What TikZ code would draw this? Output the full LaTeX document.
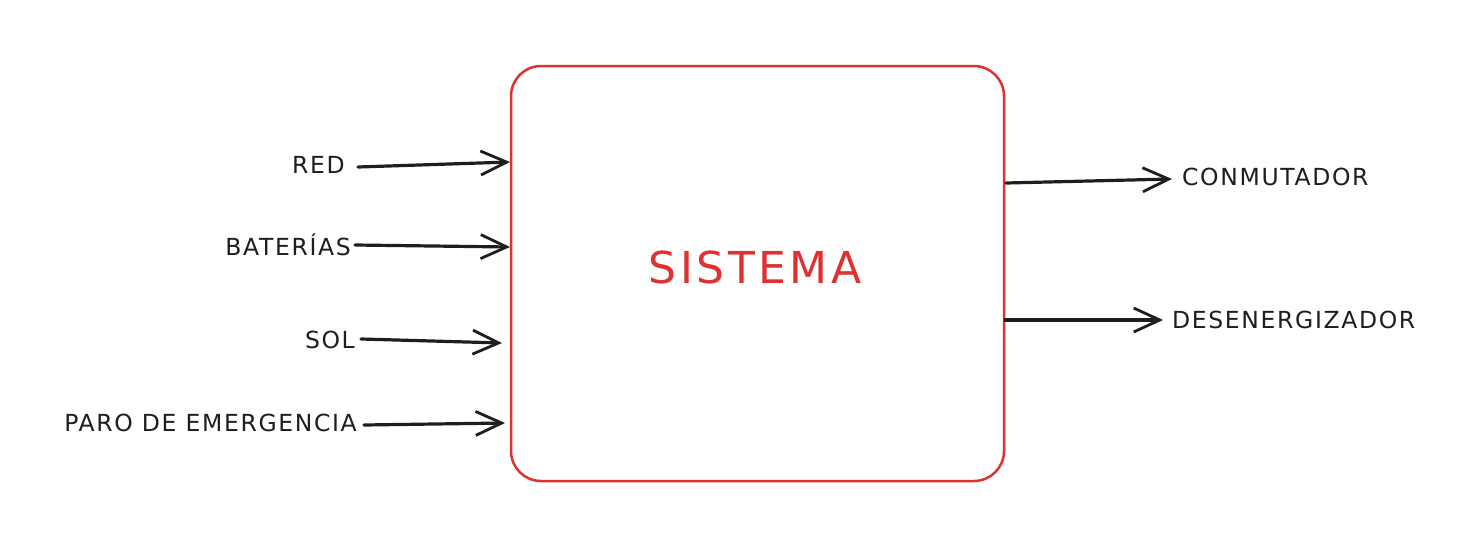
\documentclass[tikz,border=0pt]{standalone}
\usepackage{fontspec}
\setmainfont{DejaVu Sans}
\newfontfamily\lblfont[LetterSpace=7]{DejaVu Sans}
\newfontfamily\titfont[LetterSpace=8]{DejaVu Sans}
\usetikzlibrary{arrows.meta}
\definecolor{inkred}{HTML}{E03131}
\definecolor{ink}{HTML}{1E1E1E}
\begin{document}
\begin{tikzpicture}[x=1pt,y=-1pt,
  lbl/.style={text=ink,font=\lblfont\fontsize{23.5}{26}\selectfont,inner sep=0pt},
  conn/.style={draw=ink,line width=3.2pt,line cap=round,-{Straight Barb[length=26pt,width=24pt,line width=2.8pt]}}]
\useasboundingbox[fill=white] (0,0) rectangle (1480,552);
\node[draw=inkred,line width=2.5pt,rounded corners=30pt,minimum width=493pt,minimum height=415pt,inner sep=0pt] (sys) at (757.5,273.5) {};
\node[text=inkred,font=\titfont\fontsize{44}{48}\selectfont] (systxt) at (755,267) {SISTEMA};
% inputs
\node[lbl,anchor=east] (red) at (345,165) {RED};
\node[lbl,anchor=east] (bat) at (351,245) {BATERÍAS};
\node[lbl,anchor=east] (sol) at (355,340) {SOL};
\node[lbl,anchor=east] (paro) at (357,423) {PARO DE EMERGENCIA};
\coordinate (redE) at (510,162);
\coordinate (batE) at (510,247);
\coordinate (solE) at (502,343);
\coordinate (paroE) at (505,423);
\draw[conn] (358,167) coordinate (redS) -- (redE);
\draw[conn] (355,245) coordinate (batS) -- (batE);
\draw[conn] (361,339) coordinate (solS) -- (solE);
\draw[conn] (364,425) coordinate (paroS) -- (paroE);
% outputs
\node[lbl,anchor=west] (con) at (1182,177) {CONMUTADOR};
\node[lbl,anchor=west] (des) at (1172,320) {DESENERGIZADOR};
\coordinate (conS) at (1006,183);
\coordinate (desS) at (1005,320);
\draw[conn] (conS) -- (1172,179) coordinate (conE);
\draw[conn] (desS) -- (1163,320) coordinate (desE);
\end{tikzpicture}
\end{document}
